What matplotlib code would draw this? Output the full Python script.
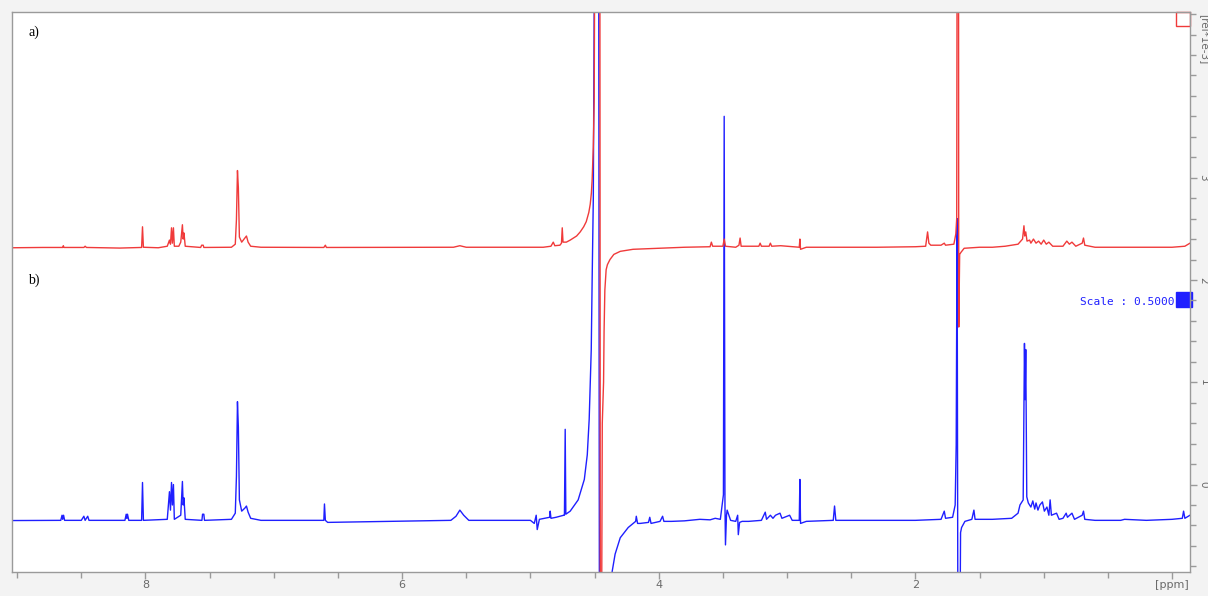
import matplotlib
matplotlib.use("Agg")
import matplotlib.pyplot as plt
import matplotlib.ticker as ticker
from matplotlib.patches import Rectangle
import numpy as np

red_color = "#f03a3a"
blue_color = "#1f1fff"
axis_gray = "#9a9a9a"
label_gray = "#6a6a6a"

# (ppm, intensity [rel*1e-3]), high ppm -> low ppm
red_trace = [
    (9.04, 2.315), (8.80, 2.318), (8.645, 2.318), (8.64, 2.335), (8.635, 2.318),
    (8.48, 2.318), (8.47, 2.33), (8.46, 2.318),
    (8.20, 2.312), (8.03, 2.318), (8.023, 2.52), (8.016, 2.32),
    (7.90, 2.315), (7.83, 2.33), (7.813, 2.39), (7.805, 2.35), (7.797, 2.51),
    (7.79, 2.36), (7.782, 2.51), (7.775, 2.33),
    (7.74, 2.33), (7.725, 2.37), (7.712, 2.54), (7.706, 2.40), (7.70, 2.46), (7.69, 2.33),
    (7.57, 2.318), (7.562, 2.34), (7.55, 2.34), (7.545, 2.318),
    (7.33, 2.32), (7.30, 2.35), (7.291, 2.59), (7.283, 3.07), (7.276, 2.90),
    (7.268, 2.42), (7.25, 2.37), (7.225, 2.41), (7.213, 2.43), (7.20, 2.37),
    (7.18, 2.33), (7.10, 2.32),
    (6.61, 2.318), (6.598, 2.34), (6.59, 2.318),
    (5.60, 2.32), (5.55, 2.335), (5.50, 2.32),
    (4.90, 2.32), (4.84, 2.33), (4.822, 2.37), (4.81, 2.335), (4.77, 2.34),
    (4.758, 2.36), (4.752, 2.51), (4.746, 2.37), (4.72, 2.37),
    (4.69, 2.39), (4.64, 2.43), (4.612, 2.47), (4.585, 2.52), (4.565, 2.57),
    (4.545, 2.66), (4.534, 2.74), (4.525, 2.85), (4.519, 2.98), (4.51, 3.3),
    (4.503, 3.76), (4.498, 5.5), (4.49, 8.0),
    (4.46, 8.0), (4.455, -2.0), (4.447, -2.0), (4.440, 0.6), (4.430, 1.0),
    (4.426, 1.5), (4.42, 1.9), (4.41, 2.1), (4.40, 2.15), (4.38, 2.2),
    (4.35, 2.25), (4.30, 2.28), (4.20, 2.30), (4.0, 2.31),
    (3.80, 2.32), (3.60, 2.325), (3.59, 2.37), (3.58, 2.33), (3.50, 2.33),
    (3.49, 2.40), (3.48, 2.33), (3.40, 2.32), (3.375, 2.34), (3.366, 2.41),
    (3.358, 2.33), (3.30, 2.33), (3.22, 2.33), (3.21, 2.36), (3.20, 2.33),
    (3.14, 2.33), (3.13, 2.36), (3.12, 2.33), (3.05, 2.335), (3.0, 2.33),
    (2.905, 2.32), (2.90, 2.40), (2.895, 2.30), (2.85, 2.32), (2.3, 2.32),
    (2.0, 2.325), (1.92, 2.33), (1.905, 2.47), (1.895, 2.36), (1.88, 2.34),
    (1.80, 2.34), (1.775, 2.36), (1.765, 2.34), (1.70, 2.35), (1.685, 2.45),
    (1.678, 2.6), (1.672, 8.0), (1.665, 8.0), (1.662, 1.54), (1.655, 2.25),
    (1.645, 2.27), (1.62, 2.31), (1.50, 2.32), (1.40, 2.32), (1.30, 2.33),
    (1.20, 2.35), (1.165, 2.40), (1.154, 2.53), (1.148, 2.43), (1.14, 2.47),
    (1.13, 2.38), (1.11, 2.39), (1.10, 2.36), (1.08, 2.40), (1.06, 2.36),
    (1.04, 2.38), (1.02, 2.35), (1.0, 2.39), (0.98, 2.35), (0.96, 2.37),
    (0.93, 2.33), (0.85, 2.33), (0.82, 2.38), (0.80, 2.35), (0.78, 2.37),
    (0.75, 2.33), (0.70, 2.36), (0.69, 2.41), (0.68, 2.34), (0.6, 2.32),
    (0.3, 2.32), (0.0, 2.32), (-0.10, 2.33), (-0.14, 2.36),
]

blue_trace = [
    (9.04, -0.352), (8.70, -0.35), (8.66, -0.35), (8.65, -0.30), (8.645, -0.34),
    (8.638, -0.30), (8.63, -0.35),
    (8.50, -0.35), (8.48, -0.31), (8.47, -0.35), (8.45, -0.31), (8.44, -0.35),
    (8.16, -0.35), (8.15, -0.29), (8.145, -0.33), (8.14, -0.29), (8.13, -0.35),
    (8.03, -0.35), (8.023, 0.02), (8.016, -0.35),
    (7.83, -0.34), (7.813, -0.07), (7.805, -0.25), (7.797, 0.02), (7.79, -0.2),
    (7.782, 0.0), (7.775, -0.34),
    (7.725, -0.30), (7.712, 0.03), (7.706, -0.2), (7.70, -0.13), (7.69, -0.34),
    (7.56, -0.35), (7.555, -0.29), (7.545, -0.29), (7.54, -0.35),
    (7.33, -0.34), (7.30, -0.28), (7.291, 0.08), (7.283, 0.81), (7.276, 0.56),
    (7.268, -0.15), (7.25, -0.26), (7.225, -0.23), (7.213, -0.21), (7.20, -0.27),
    (7.18, -0.33), (7.10, -0.35),
    (6.61, -0.35), (6.605, -0.19), (6.598, -0.35), (6.58, -0.37),
    (5.62, -0.35), (5.58, -0.31), (5.55, -0.25), (5.52, -0.30), (5.48, -0.35),
    (5.00, -0.35), (4.97, -0.38), (4.955, -0.30), (4.947, -0.44), (4.93, -0.34),
    (4.85, -0.32), (4.846, -0.26), (4.84, -0.33),
    (4.80, -0.32), (4.74, -0.30), (4.735, -0.30), (4.729, 0.54), (4.724, -0.29),
    (4.69, -0.26), (4.628, -0.15), (4.58, 0.05), (4.557, 0.29), (4.542, 0.64),
    (4.526, 1.32), (4.519, 2.0), (4.51, 2.79), (4.503, 4.7), (4.495, 8.0),
    (4.47, 8.0), (4.462, -2.0), (4.37, -2.0), (4.363, -0.85), (4.34, -0.68),
    (4.30, -0.52), (4.238, -0.42), (4.18, -0.36), (4.175, -0.31), (4.165, -0.38),
    (4.145, -0.38), (4.08, -0.37), (4.07, -0.32), (4.06, -0.38), (3.99, -0.36),
    (3.97, -0.31), (3.96, -0.36), (3.90, -0.36), (3.80, -0.355), (3.68, -0.34),
    (3.60, -0.345), (3.56, -0.33), (3.52, -0.34), (3.506, -0.2), (3.496, -0.1),
    (3.49, 3.6), (3.484, -0.2), (3.48, -0.59), (3.472, -0.30), (3.467, -0.25),
    (3.44, -0.35), (3.40, -0.36), (3.385, -0.30), (3.38, -0.49), (3.37, -0.37),
    (3.35, -0.36), (3.30, -0.36), (3.20, -0.35), (3.17, -0.27), (3.16, -0.34),
    (3.13, -0.30), (3.11, -0.33), (3.09, -0.30), (3.055, -0.28), (3.04, -0.33),
    (3.0, -0.31), (2.98, -0.30), (2.96, -0.35), (2.905, -0.35), (2.90, 0.05),
    (2.895, -0.38), (2.85, -0.36), (2.64, -0.35), (2.63, -0.21), (2.62, -0.35),
    (2.3, -0.35), (2.0, -0.35), (1.80, -0.34), (1.775, -0.26), (1.765, -0.33),
    (1.71, -0.32), (1.69, -0.2), (1.682, 0.39), (1.675, 2.6), (1.668, -2.0),
    (1.655, -2.0), (1.648, -0.47), (1.64, -0.42), (1.614, -0.36), (1.56, -0.34),
    (1.544, -0.25), (1.535, -0.34), (1.40, -0.34), (1.25, -0.33), (1.20, -0.28),
    (1.185, -0.20), (1.16, -0.15), (1.150, 1.38), (1.145, 0.83), (1.14, 1.32),
    (1.132, -0.12), (1.12, -0.18), (1.10, -0.22), (1.085, -0.16), (1.07, -0.24),
    (1.06, -0.18), (1.045, -0.25), (1.03, -0.20), (1.01, -0.17), (0.995, -0.26),
    (0.975, -0.22), (0.96, -0.30), (0.95, -0.15), (0.94, -0.30), (0.90, -0.28),
    (0.88, -0.34), (0.85, -0.33), (0.825, -0.28), (0.815, -0.32), (0.78, -0.28),
    (0.76, -0.34), (0.70, -0.30), (0.69, -0.26), (0.68, -0.34), (0.60, -0.35),
    (0.40, -0.35), (0.37, -0.34), (0.20, -0.35), (0.0, -0.34), (-0.08, -0.33),
    (-0.09, -0.26), (-0.10, -0.33), (-0.14, -0.30),
]

x_ticks = [8, 6, 4, 2, 0]
x_labels = ["8", "6", "4", "2", "[ppm]"]
y_ticks = [0, 1, 2, 3]
y_labels = ["0", "1", "2", "3"]
scale_text = "Scale : 0.5000"

fig = plt.figure(figsize=(12.08, 5.96), dpi=100, facecolor="#f3f3f3")
ax = fig.add_axes([12 / 1208, 24 / 596, 1178 / 1208, 560 / 596])
ax.set_facecolor("white")

rp, rv = np.array(red_trace).T
bp, bv = np.array(blue_trace).T
ax.plot(bp, bv, color=blue_color, lw=1.0)
ax.plot(rp, rv, color=red_color, lw=1.0)

ax.set_xlim(9.04, -0.14)
ax.set_ylim(-0.855, 4.62)

for s in ax.spines.values():
    s.set_color(axis_gray)
    s.set_linewidth(1.0)

ax.xaxis.set_major_locator(ticker.FixedLocator(x_ticks))
ax.xaxis.set_major_formatter(ticker.FixedFormatter(x_labels))
ax.xaxis.set_minor_locator(ticker.MultipleLocator(0.5))
ax.yaxis.tick_right()
ax.yaxis.set_major_locator(ticker.FixedLocator(y_ticks))
ax.yaxis.set_major_formatter(ticker.FixedFormatter(y_labels))
ax.yaxis.set_minor_locator(ticker.MultipleLocator(0.2))

ax.tick_params(axis="both", which="both", direction="out", color=axis_gray,
               labelcolor=label_gray, labelsize=8)
ax.tick_params(axis="both", which="major", length=5, width=1)
ax.tick_params(axis="both", which="minor", length=4, width=1)
ax.tick_params(axis="x", pad=1)
ax.tick_params(axis="y", pad=1, labelrotation=-90, labelsize=7.5)
for t in ax.get_yticklabels():
    t.set_va("center")

ax.text(1.0075, 0.997, "[rel*1e-3]", transform=ax.transAxes, rotation=-90,
        ha="left", va="top", fontsize=7.5, color=label_gray)

ax.text(0.014, 0.963, "a)", transform=ax.transAxes, fontsize=10,
        family="Liberation Serif", va="center")
ax.text(0.014, 0.521, "b)", transform=ax.transAxes, fontsize=10,
        family="Liberation Serif", va="center")

ax.text(0.987, 0.482, scale_text, transform=ax.transAxes, ha="right",
        va="center", fontsize=8, color=blue_color, family="DejaVu Sans Mono")
ax.add_patch(Rectangle((0.9885, 0.473), 0.0135, 0.027, transform=ax.transAxes,
                       facecolor=blue_color, edgecolor=blue_color, clip_on=False))
ax.add_patch(Rectangle((0.9885, 0.975), 0.0115, 0.025, transform=ax.transAxes,
                       facecolor="none", edgecolor=red_color, lw=1.0, clip_on=False))

fig.savefig("out.png", dpi=100, facecolor=fig.get_facecolor())
